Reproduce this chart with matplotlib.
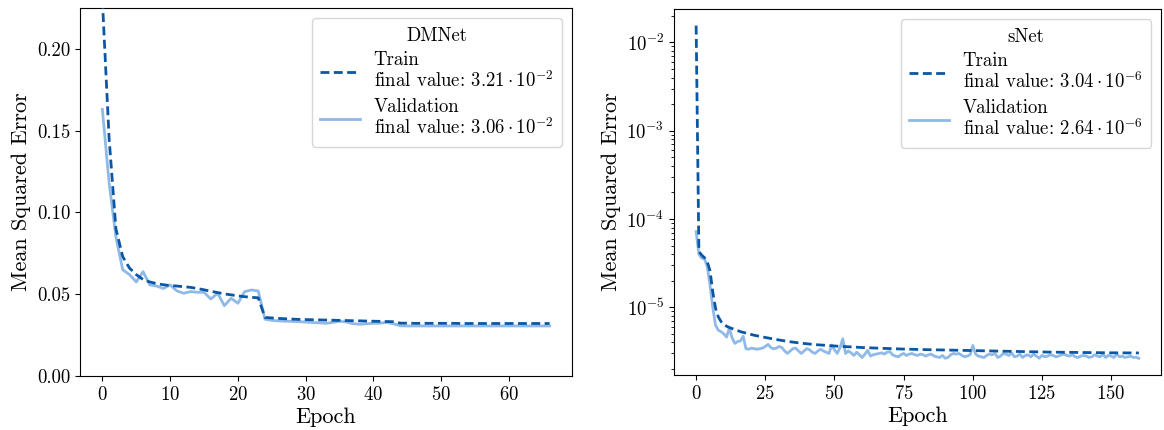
import numpy as np
import matplotlib
matplotlib.use("Agg")
import matplotlib.pyplot as plt
from matplotlib.ticker import MultipleLocator

plt.rcParams.update({
    "font.family": "serif",
    "font.serif": ["cmr10", "DejaVu Serif"],
    "mathtext.fontset": "cm",
    "axes.formatter.use_mathtext": True,
    "axes.unicode_minus": False,
})

# ---------------- data ----------------
dm_title = "DMNet"
dm_train = [0.23, 0.145, 0.090, 0.073, 0.066, 0.062, 0.059, 0.0575, 0.0565, 0.0558,
            0.0553, 0.0550, 0.0546, 0.0542, 0.0535, 0.0527, 0.0518, 0.0510, 0.0502, 0.0496,
            0.0490, 0.0485, 0.0481, 0.0478, 0.0358, 0.0355, 0.0352, 0.0350, 0.0348, 0.0346,
            0.0345, 0.0344, 0.0343, 0.0342, 0.0341, 0.0340, 0.0339, 0.0338, 0.0337, 0.0336,
            0.0335, 0.0334, 0.0333, 0.0332, 0.0323, 0.0323, 0.0322, 0.0322, 0.0322, 0.0322,
            0.0322, 0.0322, 0.0322, 0.0321, 0.0321, 0.0321, 0.0321, 0.0321, 0.0321, 0.0321,
            0.0321, 0.0321, 0.0321, 0.0321, 0.0321, 0.0321, 0.0321]
dm_val = [0.163, 0.118, 0.085, 0.065, 0.062, 0.0575, 0.0638, 0.0557, 0.0550, 0.0535,
          0.0557, 0.0520, 0.0506, 0.0516, 0.0512, 0.0512, 0.0471, 0.0506, 0.0430, 0.0475,
          0.0445, 0.0516, 0.0526, 0.0520, 0.0347, 0.0340, 0.0337, 0.0335, 0.0334, 0.0332,
          0.0330, 0.0327, 0.0325, 0.0322, 0.0328, 0.0335, 0.0330, 0.0320, 0.0316, 0.0320,
          0.0322, 0.0323, 0.0328, 0.0318, 0.0307, 0.0306, 0.0306, 0.0306, 0.0306, 0.0306,
          0.0306, 0.0306, 0.0306, 0.0306, 0.0306, 0.0306, 0.0306, 0.0306, 0.0306, 0.0306,
          0.0306, 0.0306, 0.0306, 0.0306, 0.0306, 0.0306, 0.0306]
dm_train_final = r"$3.21\cdot10^{-2}$"
dm_val_final = r"$3.06\cdot10^{-2}$"

s_title = "sNet"
s_train_e6 = [15500, 43, 39, 36.5, 33, 26, 15, 9.8, 7.8, 6.9,
              6.4, 6.1, 5.9, 5.75, 5.6, 5.45, 5.3, 5.2, 5.1, 5.0,
              4.9, 4.82, 4.75, 4.68, 4.61, 4.55, 4.49, 4.43, 4.37, 4.31,
              4.26, 4.21, 4.16, 4.11, 4.07, 4.03, 3.99, 3.95, 3.92, 3.89,
              3.86, 3.83, 3.80, 3.78, 3.76, 3.74, 3.72, 3.70, 3.68, 3.66,
              3.64, 3.62, 3.61, 3.60, 3.58, 3.57, 3.56, 3.54, 3.53, 3.52,
              3.50, 3.49, 3.48, 3.47, 3.46, 3.45, 3.44, 3.43, 3.42, 3.41,
              3.40, 3.39, 3.385, 3.38, 3.37, 3.365, 3.36, 3.35, 3.345, 3.34,
              3.33, 3.325, 3.32, 3.315, 3.31, 3.305, 3.30, 3.295, 3.29, 3.285,
              3.28, 3.275, 3.27, 3.265, 3.26, 3.255, 3.25, 3.245, 3.24, 3.235,
              3.23, 3.225, 3.22, 3.215, 3.21, 3.205, 3.20, 3.195, 3.19, 3.185,
              3.18, 3.175, 3.17, 3.165, 3.16, 3.155, 3.15, 3.145, 3.14, 3.135,
              3.13, 3.127, 3.124, 3.121, 3.118, 3.115, 3.112, 3.109, 3.106, 3.103,
              3.10, 3.097, 3.094, 3.091, 3.088, 3.085, 3.082, 3.079, 3.076, 3.073,
              3.07, 3.068, 3.066, 3.064, 3.062, 3.06, 3.058, 3.056, 3.054, 3.052,
              3.05, 3.049, 3.048, 3.047, 3.046, 3.045, 3.044, 3.043, 3.042, 3.041,
              3.04]
s_val_e6 = [72, 40, 36, 35.5, 29, 18, 10, 6.3, 5.5, 5.3,
            5.0, 4.6, 5.8, 4.5, 3.9, 4.1, 4.15, 4.7, 3.4, 3.35,
            3.45, 3.4, 3.35, 3.4, 3.45, 3.6, 3.8, 3.5, 3.38, 3.45,
            3.6, 3.5, 3.2, 3.0, 3.2, 3.4, 3.45, 3.2, 3.0, 3.2,
            3.4, 3.3, 3.1, 3.0, 3.2, 3.35, 3.2, 3.1, 3.0, 3.75,
            3.3, 3.0, 3.5, 4.4, 3.0, 3.2, 3.05, 2.85, 3.1, 2.9,
            2.7, 2.95, 3.25, 2.8, 2.9, 2.95, 3.0, 3.05, 2.95, 3.1,
            3.15, 2.9, 2.8, 2.75, 2.9, 3.0, 2.85, 2.95, 3.0, 2.9,
            2.85, 2.95, 2.9, 2.8, 2.9, 2.95, 2.8, 2.75, 2.7, 2.85,
            2.65, 2.7, 2.9, 3.0, 2.95, 3.0, 2.85, 2.75, 2.8, 2.9,
            3.7, 2.95, 2.8, 2.75, 2.7, 2.85, 2.95, 2.9, 3.0, 2.7,
            2.8, 3.0, 2.95, 2.85, 3.05, 2.75, 2.8, 2.95, 2.7, 2.85,
            2.9, 2.75, 2.95, 2.8, 2.65, 2.85, 2.75, 2.8, 2.9, 2.85,
            2.75, 2.8, 2.9, 2.95, 2.85, 2.8, 2.9, 2.75, 2.7, 2.8,
            2.85, 2.8, 2.7, 2.75, 2.9, 2.8, 2.75, 2.95, 2.7, 2.85,
            2.8, 2.7, 2.95, 2.75, 2.8, 2.7, 2.75, 2.8, 2.7, 2.72,
            2.64]
s_train_final = r"$3.04\cdot10^{-6}$"
s_val_final = r"$2.64\cdot10^{-6}$"

xlabel = "Epoch"
ylabel = "Mean Squared Error"
dm_yticks = [0.00, 0.05, 0.10, 0.15, 0.20]

# ---------------- style ----------------
c_train = "#0b57a4"
c_val = "#8fb9e6"
W, H = 1164, 430

fig = plt.figure(figsize=(W / 100, H / 100), dpi=100)
ax1 = fig.add_axes([80 / W, 1 - 376 / H, (572 - 80) / W, (376 - 8) / H])
ax2 = fig.add_axes([674 / W, 1 - 375 / H, (1161 - 674) / W, (375 - 9) / H])

s_train = np.array(s_train_e6) * 1e-6
s_val = np.array(s_val_e6) * 1e-6

for ax, tr, va, title, ftr, fva in [
    (ax1, np.array(dm_train), np.array(dm_val), dm_title, dm_train_final, dm_val_final),
    (ax2, s_train, s_val, s_title, s_train_final, s_val_final),
]:
    ax.plot(np.arange(len(tr)), tr, color=c_train, lw=2.0, ls=(0, (3.2, 1.6)), zorder=3,
            label="Train\nfinal value: " + ftr)
    ax.plot(np.arange(len(va)), va, color=c_val, lw=2.0, zorder=2,
            label="Validation\nfinal value: " + fva)
    ax.set_xlabel(xlabel, fontsize=16, labelpad=3)
    ax.set_ylabel(ylabel, fontsize=16)
    ax.tick_params(labelsize=13.5)
    leg = ax.legend(title=title, loc="upper right", fontsize=13.5, title_fontsize=13.5,
                    handlelength=2.1, handletextpad=0.75, borderpad=0.45,
                    labelspacing=0.35, borderaxespad=0.55)
    for t in leg.get_texts():
        t.set_linespacing(1.08)

ax1.set_ylim(0, 0.225)
ax1.set_yticks(dm_yticks)
ax1.set_yticklabels([f"{v:.2f}" for v in dm_yticks])
ax2.set_yscale("log")
ax2.xaxis.set_major_locator(MultipleLocator(25))

fig.savefig("out.png", dpi=100)
